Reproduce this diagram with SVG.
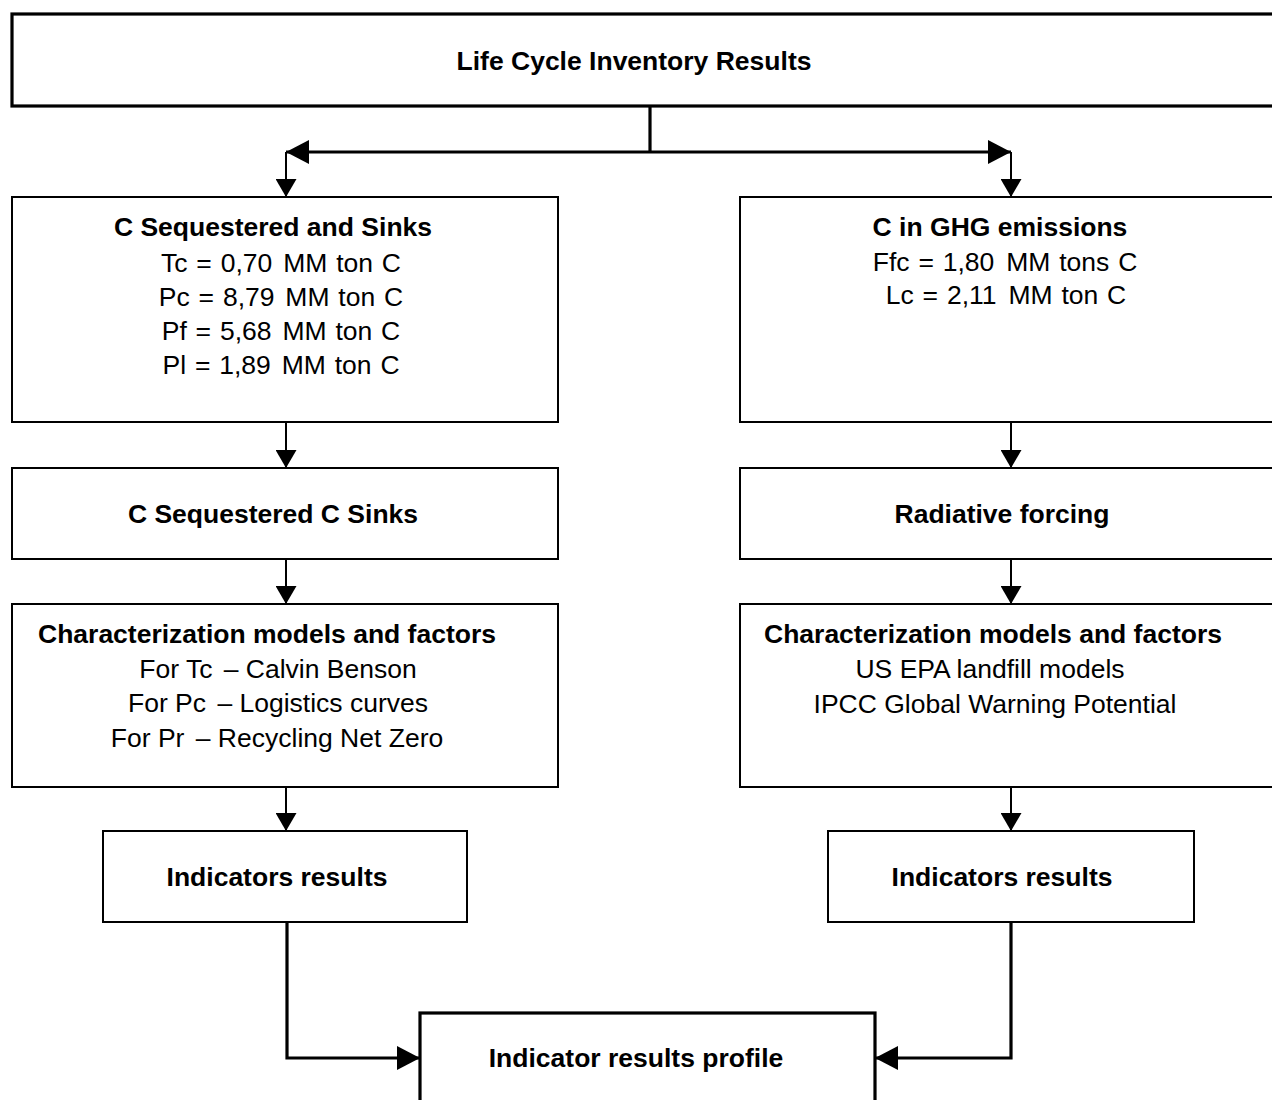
<svg xmlns="http://www.w3.org/2000/svg" width="1272" height="1100" viewBox="0 0 1272 1100">
<style>
.box{fill:#fff;stroke:#000;stroke-width:2}
.thick{stroke-width:3.2}
.b{font-family:"Liberation Sans",Arial,sans-serif;font-size:26.5px;font-weight:bold;text-anchor:middle;fill:#000}
.r{font-family:"Liberation Sans",Arial,sans-serif;font-size:26.5px;text-anchor:middle;fill:#000}
.w{word-spacing:1.5px}
.ln{fill:none;stroke:#000;stroke-width:2}
.lt{fill:none;stroke:#000;stroke-width:3.2}
</style>
<defs>
<marker id="ad" viewBox="0 0 18 21" refX="18" refY="10.5" markerWidth="18" markerHeight="21" markerUnits="userSpaceOnUse" orient="auto"><path d="M0,0 L18,10.5 L0,21 Z" fill="#000"/></marker>
<marker id="ah" viewBox="0 0 23 24" refX="23" refY="12" markerWidth="23" markerHeight="24" markerUnits="userSpaceOnUse" orient="auto"><path d="M0,0 L23,12 L0,24 Z" fill="#000"/></marker>
</defs>
<rect width="1272" height="1100" fill="#fff"/>
<g id="connectors">
<path class="lt" d="M650 106 V152"/>
<path class="lt" d="M650 152 H286" marker-end="url(#ah)"/>
<path class="lt" d="M650 152 H1011" marker-end="url(#ah)"/>
<path class="ln" d="M286 152 V197" marker-end="url(#ad)"/>
<path class="ln" d="M1011 152 V197" marker-end="url(#ad)"/>
<path class="ln" d="M286 422 V468" marker-end="url(#ad)"/>
<path class="ln" d="M1011 422 V468" marker-end="url(#ad)"/>
<path class="ln" d="M286 559 V604" marker-end="url(#ad)"/>
<path class="ln" d="M1011 559 V604" marker-end="url(#ad)"/>
<path class="ln" d="M286 787 V831" marker-end="url(#ad)"/>
<path class="ln" d="M1011 787 V831" marker-end="url(#ad)"/>
<path class="lt" d="M287 922 V1058 H420" marker-end="url(#ah)"/>
<path class="lt" d="M1011 922 V1058 H875" marker-end="url(#ah)"/>
</g>
<g id="lci">
<rect class="box thick" x="12" y="14" width="1280" height="92"/>
<text class="b" x="634" y="70">Life Cycle Inventory Results</text>
</g>
<g id="seq-sinks">
<rect class="box" x="12" y="197" width="546" height="225"/>
<text class="b" x="273" y="236">C Sequestered and Sinks</text>
<text class="r w" x="281" y="272">Tc = 0,70 <tspan dx="2">MM ton C</tspan></text>
<text class="r w" x="281" y="306">Pc = 8,79 <tspan dx="2">MM ton C</tspan></text>
<text class="r w" x="281" y="340">Pf = 5,68 <tspan dx="2">MM ton C</tspan></text>
<text class="r w" x="281" y="374">Pl = 1,89 <tspan dx="2">MM ton C</tspan></text>
</g>
<g id="ghg">
<rect class="box" x="740" y="197" width="560" height="225"/>
<text class="b" x="1000" y="236">C in GHG emissions</text>
<text class="r w" x="1005" y="271">Ffc = 1,80 <tspan dx="3">MM tons C</tspan></text>
<text class="r w" x="1006" y="304">Lc = 2,11 <tspan dx="3">MM ton C</tspan></text>
</g>
<g id="seq-c-sinks">
<rect class="box" x="12" y="468" width="546" height="91"/>
<text class="b" x="273" y="523">C Sequestered C Sinks</text>
</g>
<g id="radiative">
<rect class="box" x="740" y="468" width="560" height="91"/>
<text class="b" x="1002" y="523">Radiative forcing</text>
</g>
<g id="char-left">
<rect class="box" x="12" y="604" width="546" height="183"/>
<text class="b" x="267" y="643">Characterization models and factors</text>
<text class="r" x="278" y="678">For Tc <tspan dx="4">– Calvin Benson</tspan></text>
<text class="r" x="278" y="712">For Pc <tspan dx="4">– Logistics curves</tspan></text>
<text class="r" x="277" y="747">For Pr <tspan dx="4">– Recycling Net Zero</tspan></text>
</g>
<g id="char-right">
<rect class="box" x="740" y="604" width="560" height="183"/>
<text class="b" x="993" y="643">Characterization models and factors</text>
<text class="r" x="990" y="678">US EPA landfill models</text>
<text class="r" x="995" y="713">IPCC Global Warning Potential</text>
</g>
<g id="ind-left">
<rect class="box" x="103" y="831" width="364" height="91"/>
<text class="b" x="277" y="886">Indicators results</text>
</g>
<g id="ind-right">
<rect class="box" x="828" y="831" width="366" height="91"/>
<text class="b" x="1002" y="886">Indicators results</text>
</g>
<g id="profile">
<rect class="box thick" x="420" y="1013" width="455" height="120"/>
<text class="b" x="636" y="1067">Indicator results profile</text>
</g>
</svg>
